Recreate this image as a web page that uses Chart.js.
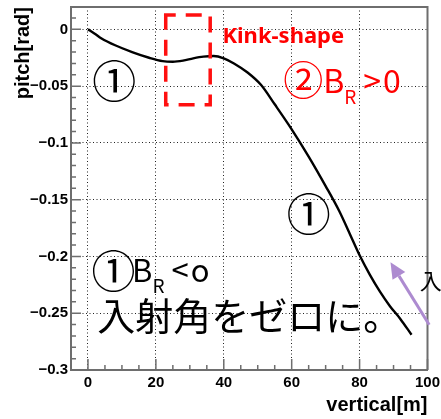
<!DOCTYPE html>
<html>
<head>
<meta charset="utf-8">
<script src="https://cdn.jsdelivr.net/npm/chart.js@4/dist/chart.umd.min.js"></script>
<style>
html,body{margin:0;padding:0;background:#fff;}
#wrap{width:441px;height:419px;position:relative;}
</style>
</head>
<body>
<div id="wrap"><canvas id="c" width="441" height="419"></canvas></div>
<script>
// ---- data ----
const verticalM = [0, 2, 4, 8, 13, 18, 22, 25, 28, 31, 34, 37, 40, 43, 47, 51, 55, 60, 65, 70, 74, 78, 80, 83, 86, 89, 92, 95.3];
const pitchRad  = [0, -0.0038, -0.008, -0.014, -0.020, -0.025, -0.028, -0.0285, -0.0275, -0.0255, -0.024, -0.0235, -0.0255, -0.030, -0.038, -0.049, -0.066, -0.088, -0.112, -0.138, -0.160, -0.186, -0.199, -0.216, -0.231, -0.244, -0.255, -0.269];
const xTickValues = [0, 20, 40, 60, 80, 100];
const yTickValues = [-0.3, -0.25, -0.2, -0.15, -0.1, -0.05, 0];
const xTitle = 'vertical[m]';
const yTitle = 'pitch[rad]';

const AXIS_GREY = '#6e6e6e';

const tickPlugin = {
  id: 'rootTicks',
  afterDatasetsDraw(chart) {
    const {ctx, chartArea: a, scales: {x, y}} = chart;
    ctx.save();
    ctx.strokeStyle = AXIS_GREY;
    ctx.lineWidth = 1.5;
    ctx.beginPath();
    for (let v = 0; v <= 100; v += 5) {
      const p = x.getPixelForValue(v);
      const len = (v % 20 === 0) ? 11 : 5;
      ctx.moveTo(p, a.bottom); ctx.lineTo(p, a.bottom - len);
    }
    for (let i = -30; i <= 1; i++) {
      const v = i / 100;
      const p = y.getPixelForValue(v);
      const len = (i % 5 === 0) ? 10 : 5;
      ctx.moveTo(a.left, p); ctx.lineTo(a.left + len, p);
    }
    ctx.stroke();
    ctx.lineWidth = 2;
    ctx.beginPath();
    ctx.moveTo(a.left, a.top); ctx.lineTo(a.right, a.top); ctx.lineTo(a.right, a.bottom);
    ctx.stroke();
    ctx.restore();
  }
};

const annotPlugin = {
  id: 'annots',
  afterDraw(chart) {
    const {ctx, scales: {x, y}} = chart;
    const X = v => x.getPixelForValue(v);
    const Y = v => y.getPixelForValue(v);
    ctx.save();
    ctx.strokeStyle = '#ff1010';
    ctx.lineWidth = 3.5;
    ctx.setLineDash([16, 10]);
    ctx.lineDashOffset = 6;
    const bx0 = X(22.9), bx1 = X(36.0), by0 = Y(0.0127), by1 = Y(-0.0665);
    ctx.strokeRect(bx0, by0, bx1 - bx0, by1 - by0);
    ctx.setLineDash([]);

    const CJK = '"Noto Sans CJK JP", "Noto Sans", sans-serif';
    ctx.fillStyle = '#ff0000';
    ctx.textAlign = 'left';
    ctx.textBaseline = 'alphabetic';
    ctx.font = 'bold 22px "Noto Sans", sans-serif';
    ctx.fillText('Kink-shape', X(39.6), Y(-0.0121));

    function circled(ch, cx, cy, size, color) {
      ctx.fillStyle = color;
      ctx.font = size + 'px ' + CJK;
      ctx.textAlign = 'center';
      ctx.textBaseline = 'middle';
      ctx.fillText(ch, X(cx), Y(cy));
    }
    function bsub(x0, y0, rel, color, big) {
      ctx.fillStyle = color;
      ctx.textAlign = 'left';
      ctx.textBaseline = 'alphabetic';
      let px = X(x0);
      const py = Y(y0);
      ctx.font = big + 'px ' + CJK;
      ctx.fillText('B', px, py);
      px += ctx.measureText('B').width;
      ctx.font = '19px ' + CJK;
      ctx.fillText('R', px, py + 11);
      px += ctx.measureText('R').width + 7;
      ctx.font = big + 'px ' + CJK;
      ctx.fillText(rel[0], px, py);
      px += ctx.measureText(rel[0]).width + 2;
      ctx.fillText(rel[1], px, py);
    }
    circled('②', 63.4, -0.0443, 40, '#ff0000');
    bsub(69.3, -0.0560, '>0', '#ff0000', 32);
    circled('①', 7.74, -0.0454, 44, '#000');
    circled('①', 65.0, -0.1625, 44, '#000');
    circled('①', 7.5, -0.2132, 44, '#000');
    bsub(13.0, -0.2227, '<o', '#000', 31);
    ctx.fillStyle = '#000';
    ctx.textAlign = 'left';
    ctx.textBaseline = 'middle';
    ctx.font = '38px ' + CJK;
    ctx.fillText('入射角をゼロに。', X(2.7), Y(-0.2519));
    ctx.font = '22px ' + CJK;
    ctx.fillText('入射角', X(97.7), Y(-0.2212));
    const tx = X(100.5), ty = Y(-0.2601), hx = X(89.1), hy = Y(-0.2051);
    const ang = Math.atan2(hy - ty, hx - tx);
    const hl = 16, hw = 7.5;
    const bxp = hx - hl * Math.cos(ang), byp = hy - hl * Math.sin(ang);
    ctx.strokeStyle = '#ad8bd0';
    ctx.fillStyle = '#ad8bd0';
    ctx.lineWidth = 3;
    ctx.beginPath(); ctx.moveTo(tx, ty); ctx.lineTo(bxp, byp); ctx.stroke();
    ctx.beginPath();
    ctx.moveTo(hx, hy);
    ctx.lineTo(bxp + hw * Math.sin(ang), byp - hw * Math.cos(ang));
    ctx.lineTo(bxp - hw * Math.sin(ang), byp + hw * Math.cos(ang));
    ctx.closePath(); ctx.fill();
    ctx.restore();
  }
};

const tickFont = {family: '"Liberation Sans", Arial, sans-serif', size: 15, weight: 'bold'};
const titleFont = {family: '"Liberation Sans", Arial, sans-serif', size: 20, weight: 'bold'};

new Chart(document.getElementById('c'), {
  type: 'line',
  data: {
    datasets: [{
      data: verticalM.map((v, i) => ({x: v, y: pitchRad[i]})),
      borderColor: '#000',
      borderWidth: 2.4,
      pointRadius: 0,
      tension: 0.4,
      cubicInterpolationMode: 'monotone',
      fill: false
    }]
  },
  options: {
    responsive: false,
    animation: false,
    devicePixelRatio: 1,
    layout: {padding: {top: 7, right: 13.5, left: 0, bottom: 0}},
    plugins: {legend: {display: false}, tooltip: {enabled: false}},
    scales: {
      x: {
        type: 'linear', min: -5, max: 100,
        afterBuildTicks: s => { s.ticks = xTickValues.map(v => ({value: v})); },
        afterFit: s => { s.height = 49; s.paddingLeft = 0; s.paddingRight = 0; },
        grid: {color: '#222', lineWidth: 1, drawTicks: false},
        border: {display: true, color: AXIS_GREY, width: 2, dash: [1, 2.5]},
        ticks: {color: '#000', font: tickFont, padding: 4, maxRotation: 0, callback: v => String(v)},
        title: {display: true, text: xTitle, align: 'end', color: '#000', font: titleFont, padding: {top: 4, bottom: 2}}
      },
      y: {
        type: 'linear', min: -0.3, max: 0.0197,
        afterBuildTicks: s => { s.ticks = yTickValues.map(v => ({value: v})); },
        afterFit: s => { s.width = 71; s.paddingTop = 0; s.paddingBottom = 0; },
        grid: {color: '#222', lineWidth: 1, drawTicks: false},
        border: {display: true, color: AXIS_GREY, width: 2, dash: [1, 2.5]},
        ticks: {color: '#000', font: tickFont, padding: 3,
          callback: v => v === 0 ? '0' : '\u2212' + String(Math.abs(v))},
        title: {display: true, text: yTitle, align: 'end', color: '#000', font: titleFont, padding: {top: 11, bottom: 0}}
      }
    }
  },
  plugins: [tickPlugin, annotPlugin]
});
</script>
</body>
</html>
